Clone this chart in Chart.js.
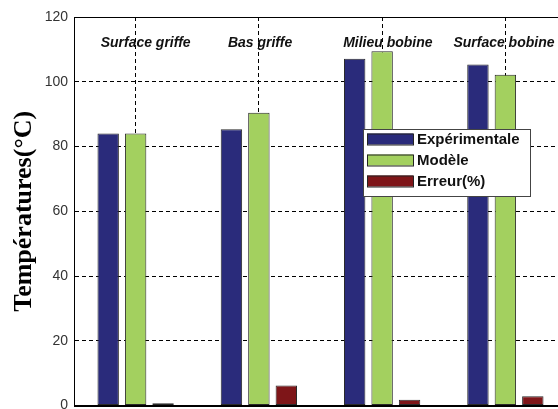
<!DOCTYPE html>
<html><head><meta charset="utf-8">
<script src="https://cdn.jsdelivr.net/npm/chart.js@4/dist/chart.umd.min.js"></script>
<style>html,body{margin:0;padding:0;background:#fff;overflow:hidden;width:558px;height:409px}
#wrap{position:relative;width:570px;height:420px}</style></head>
<body><div id="wrap"><canvas id="c" width="570" height="420"></canvas></div>
<script>
const categories = ['Surface griffe', 'Bas griffe', 'Milieu bobine', 'Surface bobine'];
const experimentale = [84.0, 85.3, 107.1, 105.3];
const modele = [84.0, 90.4, 109.4, 102.2];
const erreur = [0.7, 6.2, 1.8, 2.9];
const yTicks = [0, 20, 40, 60, 80, 100, 120];
const seriesNames = ['Expérimentale', 'Modèle', 'Erreur(%)'];
const yTitle = 'Températures(°C)';

const colors = ['#2a2b7b', '#a3d05f', '#7e1518'];
const labelOffsets = [-35, -31, -39, -52];

const overlay = {
  id: 'overlay',
  afterDraw(chart) {
    const ctx = chart.ctx, a = chart.chartArea, xs = chart.scales.x;
    ctx.save();
    ctx.strokeStyle = '#000'; ctx.lineWidth = 1; ctx.setLineDash([]);
    ctx.strokeRect(Math.round(a.left) + 0.5, Math.round(a.top) + 0.5, Math.round(a.right - a.left), Math.round(a.bottom - a.top));
    ctx.fillStyle = '#111';
    ctx.font = 'italic bold 14px "Liberation Sans", Arial, sans-serif';
    ctx.textAlign = 'left'; ctx.textBaseline = 'alphabetic';
    categories.forEach((c, i) => {
      ctx.fillText(c, xs.getPixelForValue(i) + labelOffsets[i], a.top + 30);
    });
    const lx = a.left + 289, ly = a.top + 112, lw = 167, lh = 67;
    ctx.fillStyle = '#fff';
    ctx.fillRect(lx, ly, lw, lh);
    ctx.strokeStyle = '#444';
    ctx.strokeRect(lx + 0.5, ly + 0.5, lw, lh);
    ctx.font = 'bold 15px "Liberation Sans", Arial, sans-serif';
    ctx.textBaseline = 'middle';
    chart.data.datasets.forEach((ds, i) => {
      const cy = ly + 10 + i * 21;
      ctx.fillStyle = ds.backgroundColor;
      ctx.fillRect(lx + 4, cy - 5.5, 46, 11);
      ctx.strokeStyle = '#222';
      ctx.strokeRect(lx + 4.5, cy - 5, 46, 11);
      ctx.fillStyle = '#111';
      ctx.fillText(ds.label, lx + 54, cy + 1);
    });
    ctx.restore();
  }
};

const mk = (label, data, i) => ({
  label, data,
  backgroundColor: colors[i],
  borderColor: '#2a2a2a',
  borderWidth: 1,
  borderSkipped: false,
  categoryPercentage: 0.668,
  barPercentage: 0.78
});

new Chart(document.getElementById('c'), {
  type: 'bar',
  data: {
    labels: categories,
    datasets: [
      mk(seriesNames[0], experimentale, 0),
      mk(seriesNames[1], modele, 1),
      mk(seriesNames[2], erreur, 2)
    ]
  },
  options: {
    responsive: false,
    animation: false,
    devicePixelRatio: 1,
    layout: { padding: { top: 17, right: 3, bottom: 4, left: 0 } },
    plugins: { legend: { display: false }, tooltip: { enabled: false } },
    scales: {
      x: {
        offset: true,
        grid: { offset: false, color: '#000', lineWidth: 1, drawTicks: false },
        border: { display: true, color: '#000', width: 1, dash: [4, 3] },
        ticks: { display: false },
        afterFit: s => { s.height = 0; }
      },
      y: {
        min: 0, max: 120,
        afterBuildTicks: s => { s.ticks = yTicks.map(v => ({ value: v })); },
        grid: { color: '#000', lineWidth: 1, drawTicks: false },
        border: { display: true, color: '#000', width: 1, dash: [4, 3] },
        ticks: { color: '#333', padding: 6, font: { family: '"Liberation Sans", Arial, sans-serif', size: 14 } },
        title: {
          display: true, text: yTitle, color: '#000',
          font: { family: '"Liberation Serif", "Times New Roman", serif', size: 26, weight: 'bold' },
          padding: { top: 9, bottom: 0 }
        },
        afterFit: s => { s.width = 74; }
      }
    }
  },
  plugins: [overlay]
});
</script>
</body></html>
